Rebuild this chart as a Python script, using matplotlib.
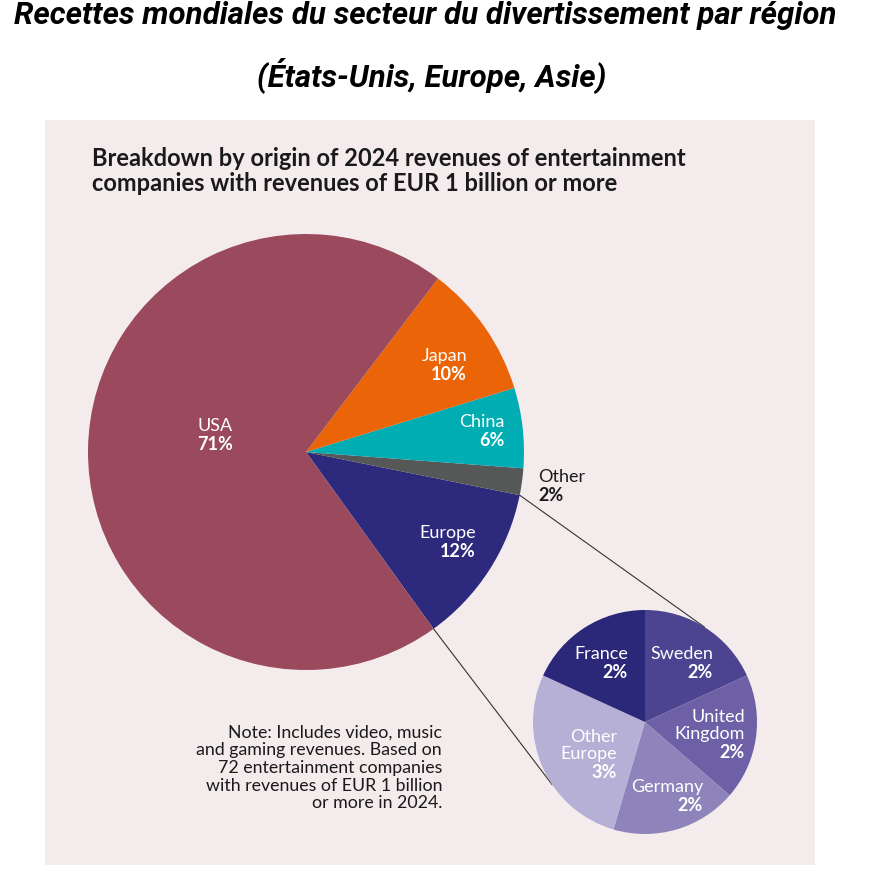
import numpy as np
import matplotlib.pyplot as plt
from matplotlib.patches import Rectangle

plt.rcParams['font.family'] = ['Lato', 'DejaVu Sans']

# main pie (counter-clockwise from Europe)
regions = ['Europe', 'Other', 'China', 'Japan', 'USA']
shares = [12, 2, 6, 10, 71]
region_colors = ['#2d2a7e', '#555857', '#00adb3', '#ec6408', '#9a4a5c']

# europe breakdown (clockwise from top)
eu_countries = ['Sweden', 'United\nKingdom', 'Germany', 'Other\nEurope', 'France']
eu_shares = [2, 2, 2, 3, 2]
eu_colors = ['#4c4391', '#6d60a6', '#8e84bb', '#b7b0d6', '#2b2779']

H = 881
big_c = (306, H - 452)
big_r = 218
small_c = (645, H - 722)
small_r = 112

fig = plt.figure(figsize=(8.81, 8.81), dpi=100)
fig.patch.set_facecolor('white')
ax = fig.add_axes([0, 0, 1, 1])

ax.add_patch(Rectangle((45, H - 865), 770, 745, facecolor='#f4ecec', edgecolor='none', zorder=0))

wedges, _ = ax.pie(shares, colors=region_colors, startangle=-54.2, counterclock=True,
                   center=big_c, radius=big_r, wedgeprops=dict(linewidth=0))
wedges2, _ = ax.pie(eu_shares, colors=eu_colors, startangle=90, counterclock=False,
                    center=small_c, radius=small_r, wedgeprops=dict(linewidth=0))

# connector lines from Europe wedge edges to the small pie
eu_w = wedges[0]
a1, a2 = np.radians(eu_w.theta2), np.radians(eu_w.theta1)
p1 = (big_c[0] + big_r * np.cos(a1), big_c[1] + big_r * np.sin(a1))
p2 = (big_c[0] + big_r * np.cos(a2), big_c[1] + big_r * np.sin(a2))
q1 = (small_c[0] + small_r * np.cos(np.radians(58)), small_c[1] + small_r * np.sin(np.radians(58)))
q2 = (small_c[0] + small_r * np.cos(np.radians(214)), small_c[1] + small_r * np.sin(np.radians(214)))
ax.plot([p1[0], q1[0]], [p1[1], q1[1]], color='#333333', lw=0.8, zorder=0.5)
ax.plot([p2[0], q2[0]], [p2[1], q2[1]], color='#333333', lw=0.8, zorder=0.5)

# label layout: right edge x, split y, alignment, color
big_lab = {
    'USA': (233, 435, 'right', 'white'),
    'Japan': (467, 365, 'right', 'white'),
    'China': (505, 431, 'right', 'white'),
    'Other': (538, 486, 'left', '#1a1a1a'),
    'Europe': (476, 542, 'right', 'white'),
}
for name, val in zip(regions, shares):
    x, y, ha, col = big_lab[name]
    ax.text(x, H - y + 1, name, ha=ha, va='bottom', color=col, fontsize=13)
    ax.text(x, H - y - 1, f'{val}%', ha=ha, va='top', color=col, fontsize=13, fontweight='bold')

small_lab = {
    'Sweden': (713, 663),
    'United\nKingdom': (745, 743),
    'Germany': (703, 796),
    'Other\nEurope': (617, 763),
    'France': (628, 663),
}
for name, val in zip(eu_countries, eu_shares):
    x, y = small_lab[name]
    ax.text(x, H - y + 1, name, ha='right', va='bottom', color='white', fontsize=13,
            linespacing=1.05, multialignment='right')
    ax.text(x, H - y - 1, f'{val}%', ha='right', va='top', color='white', fontsize=13, fontweight='bold')

ax.text(92, H - 171, 'Breakdown by origin of 2024 revenues of entertainment\n'
        'companies with revenues of EUR 1 billion or more',
        ha='left', va='center', fontsize=17, fontweight='bold', color='#1a1a1a', linespacing=1.1)

ax.text(442, H - 768, 'Note: Includes video, music\nand gaming revenues. Based on\n'
        '72 entertainment companies\nwith revenues of EUR 1 billion\nor more in 2024.',
        ha='right', va='center', multialignment='right', fontsize=12.8, color='#1a1a1a',
        linespacing=1.12)

ax.text(425, H - 15, 'Recettes mondiales du secteur du divertissement par région',
        ha='center', va='center', fontsize=22.5, fontweight='bold', fontstyle='italic',
        family=['Roboto', 'DejaVu Sans'], color='black')
ax.text(432, H - 76, '(États-Unis, Europe, Asie)',
        ha='center', va='center', fontsize=22.5, fontweight='bold', fontstyle='italic',
        family=['Roboto', 'DejaVu Sans'], color='black')

ax.set_xlim(0, 881)
ax.set_ylim(0, 881)
ax.set_aspect('equal')
ax.axis('off')

fig.savefig('out.png', dpi=100, facecolor='white')
